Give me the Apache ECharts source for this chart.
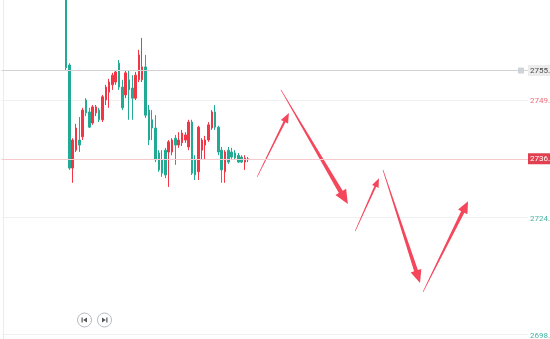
<!DOCTYPE html>
<html><head><meta charset="utf-8">
<script src="https://cdn.jsdelivr.net/npm/echarts@6/dist/echarts.min.js"></script>
<style>html,body{margin:0;padding:0;background:#fff;overflow:hidden}#c{width:550px;height:339px}</style>
</head><body><div id="c"></div>
<script>
// ---- data ----
const leadSlots = 19;      // empty bars before first candle
const totalSlots = 159;    // total bar slots on the time axis
// [open, close, low, high]
const candles = [
  [2775.6, 2756.5, 2756.0, 2776.7],
  [2757.1, 2734.7, 2734.3, 2757.5],
  [2734.7, 2740.8, 2731.5, 2741.2],
  [2738.6, 2743.4, 2738.2, 2744.3],
  [2740.8, 2739.7, 2738.2, 2745.8],
  [2741.5, 2747.3, 2740.8, 2747.8],
  [2749.5, 2746.7, 2746.0, 2749.9],
  [2746.9, 2743.6, 2743.4, 2747.8],
  [2744.5, 2748.0, 2744.1, 2748.4],
  [2746.7, 2748.0, 2746.0, 2748.4],
  [2747.3, 2745.2, 2744.7, 2747.8],
  [2745.2, 2750.2, 2744.7, 2750.6],
  [2749.5, 2752.3, 2748.4, 2752.8],
  [2751.2, 2753.4, 2747.8, 2754.1],
  [2752.8, 2754.9, 2751.7, 2755.4],
  [2753.4, 2755.6, 2752.8, 2756.0],
  [2757.5, 2752.3, 2751.7, 2758.2],
  [2752.3, 2747.8, 2747.3, 2753.9],
  [2750.6, 2755.4, 2749.9, 2756.0],
  [2753.9, 2751.7, 2745.2, 2756.0],
  [2752.1, 2749.9, 2745.2, 2754.9],
  [2749.9, 2754.9, 2749.5, 2755.6],
  [2753.9, 2759.3, 2753.4, 2760.4],
  [2753.9, 2756.7, 2753.4, 2763.0],
  [2756.7, 2746.2, 2745.6, 2759.3],
  [2747.3, 2740.8, 2739.7, 2748.4],
  [2745.2, 2743.4, 2740.8, 2747.3],
  [2743.4, 2736.5, 2736.0, 2746.2],
  [2738.0, 2734.3, 2733.9, 2738.6],
  [2736.5, 2733.6, 2732.8, 2738.6],
  [2738.6, 2733.2, 2732.5, 2739.1],
  [2738.2, 2740.4, 2730.6, 2740.8],
  [2738.2, 2740.8, 2737.5, 2741.2],
  [2741.2, 2739.7, 2735.4, 2741.9],
  [2739.7, 2740.8, 2739.1, 2742.5],
  [2740.2, 2742.3, 2739.5, 2743.0],
  [2740.8, 2741.9, 2740.2, 2742.5],
  [2739.3, 2744.7, 2738.6, 2745.2],
  [2744.7, 2733.6, 2733.2, 2745.2],
  [2736.5, 2733.2, 2732.1, 2737.5],
  [2733.9, 2743.6, 2732.1, 2743.9],
  [2738.6, 2740.8, 2736.5, 2741.2],
  [2739.7, 2740.8, 2736.5, 2741.7],
  [2740.8, 2744.1, 2740.4, 2744.7],
  [2743.4, 2746.9, 2743.0, 2747.3],
  [2746.9, 2743.6, 2743.0, 2748.4],
  [2743.6, 2738.2, 2737.5, 2743.9],
  [2738.6, 2734.3, 2731.5, 2739.3],
  [2733.9, 2738.2, 2731.5, 2738.6],
  [2738.6, 2736.0, 2735.6, 2739.3],
  [2738.2, 2737.1, 2736.7, 2739.1],
  [2738.0, 2736.9, 2736.5, 2738.6],
  [2737.5, 2736.0, 2735.8, 2738.0],
  [2737.1, 2736.0, 2735.8, 2737.5],
  [2736.0, 2736.9, 2734.3, 2737.5],
  [2736.5, 2736.7, 2736.0, 2737.1]
];
const priceTicks = [2698.5, 2724.0, 2749.5];
const priceMin = 2697.54;
const priceMax = 2771.24;
const lastPrice = 2736.7;
const markerPrice = 2755.9;
// drawn arrows: [slot index, price]
const arrowStarts = [[76.7, 2732.8], [83.9, 2751.7], [106.3, 2721.0], [114.7, 2734.3], [126.8, 2707.8]];
const arrowEnds   = [[86.3, 2746.7], [104.1, 2726.9], [113.5, 2732.5], [125.9, 2709.7], [140.4, 2727.5]];

// ---- styles ----
const UP = '#f23645', DOWN = '#22ab94';
const ARROW = '#f4475c';
const FS = 8;
// [shaft width at head, head length, head half width]
const arrowShapes = [[2.2, 10, 4], [4.5, 14, 6.2], [2, 9, 3.6], [4, 13, 5.6], [3.6, 12, 5.2]];

const categories = [];
for (let i = 0; i < totalSlots; i++) categories.push(String(i));
const candleData = [];
for (let i = 0; i < leadSlots; i++) candleData.push('-');
candles.forEach(c => candleData.push(c));
const arrowData = arrowStarts.map((s, i) => [s[0], s[1], arrowEnds[i][0], arrowEnds[i][1]]);

const chart = echarts.init(document.getElementById('c'), null, {renderer: 'canvas'});
const font = 'Roboto, "Liberation Sans", sans-serif';

function btn(cx, dir) {
  const ch = [{type: 'circle', shape: {cx: cx, cy: 320, r: 7}, style: {fill: '#fff', stroke: '#b8bbc3', lineWidth: 1}}];
  if (dir < 0) {
    ch.push({type: 'rect', shape: {x: cx - 3, y: 317.5, width: 1.2, height: 5}, style: {fill: '#555'}});
    ch.push({type: 'polygon', shape: {points: [[cx + 2.5, 317.5], [cx + 2.5, 322.5], [cx - 1.3, 320]]}, style: {fill: '#555'}});
  } else {
    ch.push({type: 'rect', shape: {x: cx + 1.8, y: 317.5, width: 1.2, height: 5}, style: {fill: '#555'}});
    ch.push({type: 'polygon', shape: {points: [[cx - 2.5, 317.5], [cx - 2.5, 322.5], [cx + 1.3, 320]]}, style: {fill: '#555'}});
  }
  return {type: 'group', children: ch};
}

chart.setOption({
  animation: false,
  backgroundColor: '#ffffff',
  grid: {left: 1.5, right: 22, top: 0, bottom: 0, containLabel: false, outerBoundsMode: 'none'},
  xAxis: [
    {type: 'category', data: categories, boundaryGap: true, show: false},
    {type: 'value', min: -0.5, max: totalSlots - 0.5, show: false}
  ],
  yAxis: {
    type: 'value', position: 'right', min: priceMin, max: priceMax, scale: true,
    axisLine: {show: true, lineStyle: {color: '#ececec'}},
    axisTick: {show: false, customValues: priceTicks},
    splitLine: {show: true, lineStyle: {color: '#f0f0f0'}},
    axisLabel: {
      customValues: priceTicks, margin: 2, fontSize: FS, fontFamily: font, overflow: 'none',
      formatter: function (v) { const t = Number(v).toFixed(2); return v > 2740 ? '{r|' + t + '}' : '{g|' + t + '}'; },
      rich: {r: {color: '#ef6b77', fontSize: FS, fontFamily: font, padding: [3, 0, 0, 0]}, g: {color: '#45b3a1', fontSize: FS, fontFamily: font, padding: [3, 0, 0, 0]}}
    }
  },
  series: [
    {
      type: 'candlestick', data: candleData, barWidth: 2, clip: true,
      itemStyle: {color: UP, color0: DOWN, borderColor: UP, borderColor0: DOWN, borderWidth: 1},
      markLine: {
        symbol: 'none', silent: true, animation: false,
        data: [
          {yAxis: markerPrice, lineStyle: {color: '#d2d2d2', width: 1.2, type: 'solid'},
           label: {show: true, position: 'end', distance: -10, fontFamily: font, overflow: 'none',
             formatter: '{sq|}{gap|}{t|' + markerPrice.toFixed(2) + '}',
             rich: {sq: {width: 6, height: 6, backgroundColor: '#cfd2d8'},
                    gap: {width: 4},
                    t: {backgroundColor: '#ececec', color: '#4a4a4a', fontSize: FS, padding: [2, 3, 1, 2], fontFamily: font}}}},
          {yAxis: lastPrice, lineStyle: {color: '#f6c9cd', width: 1, type: 'solid'},
           label: {show: true, position: 'end', distance: 0, fontFamily: font, overflow: 'none',
             formatter: lastPrice.toFixed(2), backgroundColor: '#e0404f', color: '#fff', fontSize: FS,
             padding: [2, 3, 1, 2]}}
        ]
      }
    },
    {
      type: 'custom', xAxisIndex: 1, yAxisIndex: 0, data: arrowData, clip: false,
      encode: {x: [0, 2], y: [1, 3]},
      renderItem: function (params, api) {
        const p0 = api.coord([api.value(0), api.value(1)]);
        const p1 = api.coord([api.value(2), api.value(3)]);
        const s = arrowShapes[params.dataIndex];
        const dx = p1[0] - p0[0], dy = p1[1] - p0[1];
        const L = Math.sqrt(dx * dx + dy * dy);
        const ux = dx / L, uy = dy / L, nx = -uy, ny = ux;
        const bx = p1[0] - ux * s[1], by = p1[1] - uy * s[1];
        const pts = [
          [p0[0] + nx * 0.3, p0[1] + ny * 0.3],
          [bx + nx * s[0] / 2, by + ny * s[0] / 2],
          [bx + nx * s[2], by + ny * s[2]],
          [p1[0], p1[1]],
          [bx - nx * s[2], by - ny * s[2]],
          [bx - nx * s[0] / 2, by - ny * s[0] / 2],
          [p0[0] - nx * 0.3, p0[1] - ny * 0.3]
        ];
        return {type: 'polygon', shape: {points: pts}, style: {fill: ARROW}};
      }
    }
  ],
  graphic: [btn(84.5, -1), btn(104.5, 1)]
});
</script>
</body></html>
